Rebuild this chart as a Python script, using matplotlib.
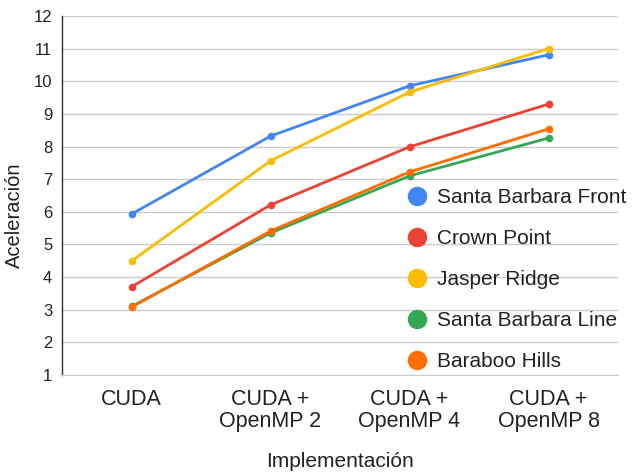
import matplotlib.pyplot as plt
from matplotlib.lines import Line2D

plt.rcParams['font.family'] = ['Liberation Sans', 'DejaVu Sans']

categories = ['CUDA', 'CUDA +\nOpenMP 2', 'CUDA +\nOpenMP 4', 'CUDA +\nOpenMP 8']
series_names = ['Santa Barbara Front', 'Crown Point', 'Jasper Ridge',
                'Santa Barbara Line', 'Baraboo Hills']
santa_barbara_front = [5.93, 8.32, 9.86, 10.81]
crown_point = [3.70, 6.21, 7.99, 9.30]
jasper_ridge = [4.49, 7.56, 9.67, 11.00]
santa_barbara_line = [3.10, 5.35, 7.10, 8.26]
baraboo_hills = [3.08, 5.41, 7.22, 8.54]
colors = ['#4285F4', '#EA4335', '#FBBC04', '#34A853', '#FF6D01']

all_series = [santa_barbara_front, crown_point, jasper_ridge,
              santa_barbara_line, baraboo_hills]

fig = plt.figure(figsize=(6.34, 4.74), dpi=100)
ax = fig.add_axes([62 / 634, 99 / 474, 556 / 634, 359 / 474])

x = list(range(len(categories)))
for vals, c in zip(all_series, colors):
    ax.plot(x, vals, color=c, lw=2, marker='o', ms=4.5, zorder=3)

ax.set_xlim(-0.5, 3.5)
ax.set_ylim(1, 12)
ax.set_yticks(range(1, 13))
ax.set_xticks(x)
ax.set_xticklabels(categories, fontsize=15.5, color='#222222', linespacing=1.1)
ax.tick_params(axis='y', labelsize=12, colors='#222222', length=0, pad=7)
ax.tick_params(axis='x', length=0, pad=10)
ax.grid(axis='y', color='#cccccc', lw=1)
ax.set_axisbelow(True)
for s in ['top', 'right']:
    ax.spines[s].set_visible(False)
ax.spines['bottom'].set_color('#cccccc')
ax.spines['left'].set_color('#333333')
ax.spines['left'].set_linewidth(1)

ax.set_xlabel('Implementación', fontsize=15, color='#222222', labelpad=14)
ax.set_ylabel('Aceleración', fontsize=14.5, color='#222222')
ax.yaxis.set_label_coords(-0.068, 0.446)

handles = [Line2D([], [], ls='none', marker='o', ms=13, color=c) for c in colors]
fig.legend(handles, series_names, loc='upper left', bbox_to_anchor=(396 / 634, 1 - 178 / 474),
           frameon=False, fontsize=15, labelspacing=1.05, handletextpad=0.45,
           handlelength=1.0, borderpad=0, labelcolor='#222222')

fig.savefig('out.png', dpi=100, facecolor='white')
